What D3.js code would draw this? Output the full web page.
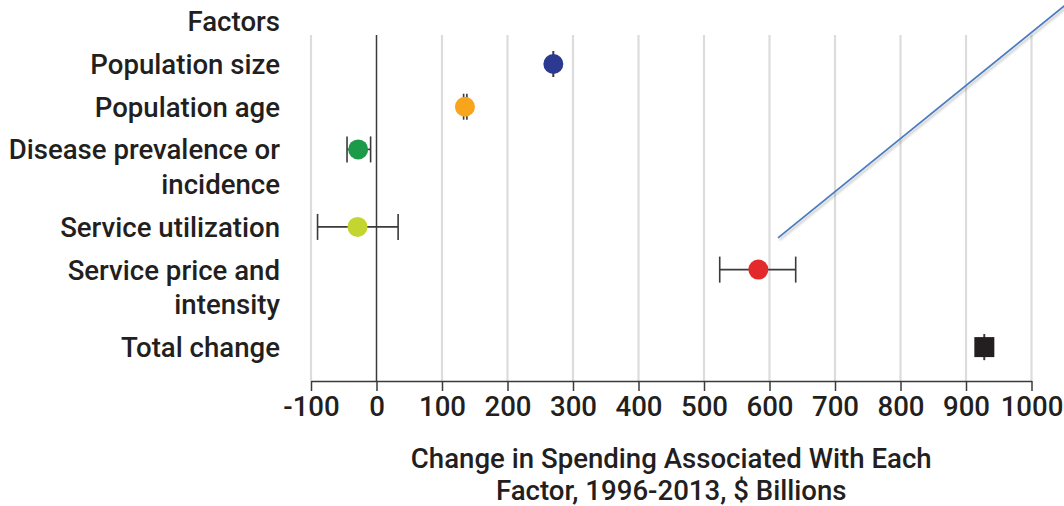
<!DOCTYPE html>
<html>
<head>
<meta charset="utf-8">
<script src="https://cdn.jsdelivr.net/npm/d3@7"></script>
<style>
  html, body { margin: 0; padding: 0; background: #fff; }
  svg { display: block; }
  text { font-family: Roboto, "Noto Sans", sans-serif; fill: #231f20; font-weight: 500; }
</style>
</head>
<body>
<svg id="chart" width="1064" height="506"></svg>
<script>
// Factors driving the change in US health spending, 1996-2013 ($ billions)
const factors = [
  ["Population size"],
  ["Population age"],
  ["Disease prevalence or", "incidence"],
  ["Service utilization"],
  ["Service price and", "intensity"],
  ["Total change"]
];
const estimates = [270, 135, -28, -29, 583, 928];
const lowerBounds = [270, 133, -45, -90, 524, 928];
const upperBounds = [270, 138, -9, 33, 640, 928];
const markerColors = ["#2b3990", "#f9a51c", "#1c9a4a", "#c3d62f", "#e2292b", "#231f20"];
const markerShapes = ["circle", "circle", "circle", "circle", "circle", "square"];
const xTicks = [-100, 0, 100, 200, 300, 400, 500, 600, 700, 800, 900, 1000];
const xDomain = [-100, 1000];
const headerLabel = "Factors";
const axisTitle = ["Change in Spending Associated With Each", "Factor, 1996-2013, $ Billions"];

const svg = d3.select("#chart");

const plotLeft = 311, plotRight = 1031.5, plotTop = 35, axisY = 381;
const labelRight = 280;
const lineHeight = 34.8, rowGap = 7.9, firstRowY = 64;
const capHalf = 13;
const fontSize = "27.6px";

const x = d3.scaleLinear().domain(xDomain).range([plotLeft, plotRight]);

// Row positions: each row takes as many text lines as its label has
const rowY = [];
let yCursor = firstRowY;
factors.forEach(lines => { rowY.push(yCursor); yCursor += lines.length * lineHeight + rowGap; });

// Vertical gridlines
svg.append("g").selectAll("line")
  .data(xTicks.filter(t => t !== 0))
  .join("line")
  .attr("x1", d => x(d)).attr("x2", d => x(d))
  .attr("y1", plotTop).attr("y2", axisY)
  .attr("stroke", "#dcdcdc").attr("stroke-width", 2.2);

// Zero reference line
svg.append("line")
  .attr("x1", x(0)).attr("x2", x(0))
  .attr("y1", plotTop).attr("y2", axisY)
  .attr("stroke", "#3a3a3a").attr("stroke-width", 1.5);

// Bottom axis
const axis = d3.axisBottom(x).tickValues(xTicks).tickSizeInner(10).tickSizeOuter(0)
  .tickFormat(d => d < 0 ? "-" + Math.abs(d) : String(d));
const axisG = svg.append("g").attr("transform", `translate(0,${axisY})`).call(axis);
axisG.select(".domain").attr("stroke", "#3a3a3a").attr("stroke-width", 1.5);
axisG.selectAll(".tick line").attr("stroke", "#3a3a3a").attr("stroke-width", 1.5);
axisG.selectAll(".tick text")
  .attr("y", 15).attr("dy", "0.71em")
  .style("font-size", fontSize).style("font-family", "Roboto, sans-serif")
  .style("font-weight", 500).attr("fill", "#231f20");

// Axis title
svg.append("text")
  .attr("x", (plotLeft + plotRight) / 2).attr("y", 458)
  .attr("text-anchor", "middle").attr("dominant-baseline", "central")
  .style("font-size", fontSize)
  .selectAll("tspan").data(axisTitle).join("tspan")
  .attr("x", (plotLeft + plotRight) / 2)
  .attr("dy", (d, i) => i === 0 ? 0 : 32)
  .text(d => d);

// Header and row labels
svg.append("text")
  .attr("x", labelRight).attr("y", firstRowY - 43)
  .attr("text-anchor", "end").attr("dominant-baseline", "central")
  .style("font-size", fontSize)
  .text(headerLabel);

const labels = svg.append("g").selectAll("text")
  .data(factors)
  .join("text")
  .attr("x", labelRight)
  .attr("y", (d, i) => rowY[i])
  .attr("text-anchor", "end").attr("dominant-baseline", "central")
  .style("font-size", fontSize);
labels.selectAll("tspan").data(d => d).join("tspan")
  .attr("x", labelRight)
  .attr("dy", (d, i) => i === 0 ? 0 : lineHeight)
  .text(d => d);

// Leader line pointing out of the panel
const defs = svg.append("defs");
const shadow = defs.append("filter").attr("id", "soft-shadow")
  .attr("x", "-20%").attr("y", "-20%").attr("width", "140%").attr("height", "140%");
shadow.append("feDropShadow").attr("dx", 1.5).attr("dy", 2)
  .attr("stdDeviation", 1.2).attr("flood-color", "#000").attr("flood-opacity", 0.25);
svg.append("line")
  .attr("x1", x(613)).attr("y1", rowY[3] + 11)
  .attr("x2", x(1061)).attr("y2", 0)
  .attr("stroke", "#4a7cc0").attr("stroke-width", 1.8)
  .attr("filter", "url(#soft-shadow)");

// Error bars
const rows = estimates.map((v, i) => ({
  v, lo: lowerBounds[i], hi: upperBounds[i], y: rowY[i], color: markerColors[i], shape: markerShapes[i]
}));
const eb = svg.append("g").attr("stroke", "#3a3a3a").attr("stroke-width", 1.6);
eb.selectAll("line.span").data(rows).join("line").attr("class", "span")
  .attr("x1", d => x(d.lo)).attr("x2", d => x(d.hi))
  .attr("y1", d => d.y).attr("y2", d => d.y);
eb.selectAll("line.cap-lo").data(rows).join("line").attr("class", "cap-lo")
  .attr("x1", d => x(d.lo)).attr("x2", d => x(d.lo))
  .attr("y1", d => d.y - capHalf).attr("y2", d => d.y + capHalf);
eb.selectAll("line.cap-hi").data(rows).join("line").attr("class", "cap-hi")
  .attr("x1", d => x(d.hi)).attr("x2", d => x(d.hi))
  .attr("y1", d => d.y - capHalf).attr("y2", d => d.y + capHalf);

// Point estimates
svg.append("g").selectAll("circle")
  .data(rows.filter(d => d.shape === "circle"))
  .join("circle")
  .attr("cx", d => x(d.v)).attr("cy", d => d.y).attr("r", 10)
  .attr("fill", d => d.color);
svg.append("g").selectAll("rect")
  .data(rows.filter(d => d.shape === "square"))
  .join("rect")
  .attr("x", d => x(d.v) - 10).attr("y", d => d.y - 10)
  .attr("width", 20).attr("height", 20)
  .attr("fill", d => d.color);
</script>
</body>
</html>
